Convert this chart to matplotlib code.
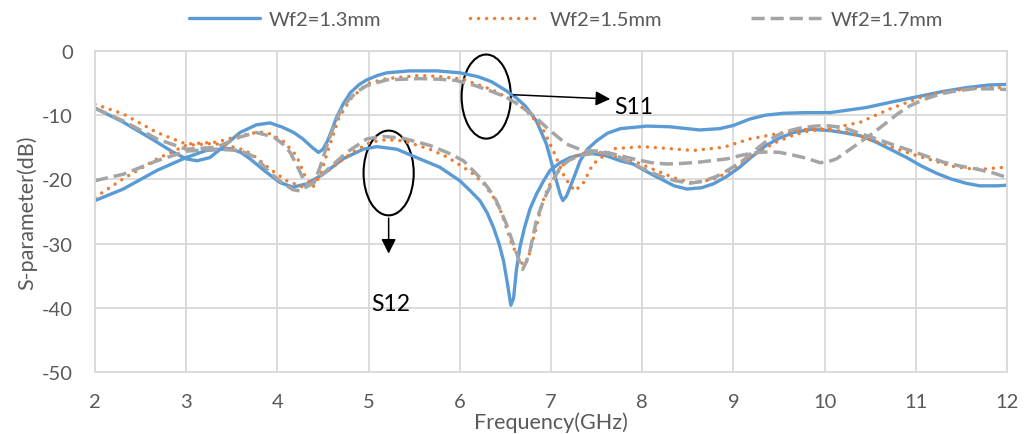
import matplotlib
matplotlib.use("Agg")
import matplotlib.pyplot as plt
from matplotlib.patches import Ellipse

plt.rcParams["font.family"] = ["Lato", "DejaVu Sans"]
plt.rcParams["axes.unicode_minus"] = False

# ----------------------------------------
# data (GHz, dB)
# ----------------------------------------
f_s11_13 = [2.0, 2.3, 2.6, 2.85, 3.0, 3.12, 3.26, 3.4, 3.59, 3.77, 3.92, 4.06, 4.18, 4.28,
            4.38, 4.45, 4.5, 4.55, 4.6, 4.65, 4.72, 4.8, 4.9, 4.98, 5.1, 5.2, 5.45, 5.75,
            6.0, 6.2, 6.35, 6.51, 6.62, 6.72, 6.84, 6.95, 7.04, 7.1, 7.13, 7.17, 7.21,
            7.27, 7.32, 7.4, 7.5, 7.62, 7.76, 8.05, 8.3, 8.63, 8.85, 9.0, 9.18, 9.35,
            9.55, 9.8, 10.06, 10.46, 10.75, 11.06, 11.3, 11.56, 11.8, 12.0]
s11_13 = [-8.9, -11.0, -13.5, -15.7, -16.8, -17.1, -16.6, -15.0, -12.7, -11.5, -11.2, -11.9,
          -12.7, -13.7, -15.0, -15.8, -15.3, -14.0, -12.2, -10.3, -8.3, -6.5, -5.2, -4.5,
          -3.8, -3.4, -3.1, -3.1, -3.4, -4.0, -4.8, -6.2, -7.3, -8.6, -10.9, -14.5, -19.2,
          -22.3, -23.3, -22.6, -21.2, -19.0, -17.1, -15.3, -14.0, -12.8, -12.1, -11.7,
          -11.8, -12.3, -12.1, -11.6, -10.6, -10.0, -9.7, -9.6, -9.6, -8.8, -7.9, -7.0,
          -6.3, -5.7, -5.3, -5.2]

f_s12_13 = [2.0, 2.31, 2.68, 3.0, 3.22, 3.48, 3.6, 3.7, 3.88, 4.03, 4.17, 4.32, 4.5, 4.72,
            4.94, 5.09, 5.31, 5.56, 5.78, 6.0, 6.11, 6.22, 6.3, 6.37, 6.43, 6.48, 6.52,
            6.56, 6.59, 6.62, 6.66, 6.71, 6.77, 6.84, 6.92, 6.99, 7.1, 7.21, 7.35, 7.46,
            7.6, 7.76, 7.9, 8.05, 8.2, 8.35, 8.49, 8.65, 8.78, 8.92, 9.07, 9.2, 9.36, 9.5,
            9.66, 9.84, 10.06, 10.2, 10.39, 10.55, 10.72, 10.9, 11.06, 11.22, 11.38, 11.55,
            11.7, 11.9, 12.0]
s12_13 = [-23.3, -21.5, -18.6, -16.6, -15.5, -15.2, -15.8, -16.8, -18.9, -20.5, -21.2,
          -20.7, -19.2, -16.8, -15.3, -14.9, -15.3, -16.8, -18.1, -20.2, -21.7, -23.3,
          -25.2, -27.5, -30.0, -32.7, -36.0, -39.6, -38.5, -34.2, -30.5, -27.5, -24.6,
          -22.3, -20.2, -18.6, -17.4, -16.6, -16.1, -16.0, -16.3, -17.1, -17.6, -18.8,
          -19.9, -21.0, -21.5, -21.3, -20.7, -19.6, -18.1, -16.5, -14.7, -13.6, -12.7,
          -12.2, -12.4, -12.7, -13.2, -14.1, -15.3, -16.6, -17.9, -19.0, -19.9, -20.6,
          -21.0, -21.0, -20.9]

f_s11_15 = [2.0, 2.31, 2.68, 3.0, 3.33, 3.59, 3.8, 3.92, 4.06, 4.21, 4.3, 4.39, 4.47, 4.56,
            4.67, 4.8, 4.98, 5.2, 5.56, 5.78, 6.04, 6.15, 6.35, 6.51, 6.62, 6.73, 6.82,
            6.92, 7.04, 7.15, 7.26, 7.35, 7.46, 7.61, 7.7, 8.01, 8.3, 8.56, 8.89, 9.18,
            9.55, 9.8, 10.06, 10.39, 10.72, 11.06, 11.3, 11.56, 11.8, 12.0]
s11_15 = [-8.3, -9.8, -12.7, -14.5, -14.2, -13.2, -12.6, -12.9, -14.0, -16.3, -19.4,
          -21.2, -19.4, -15.3, -10.6, -7.5, -5.1, -4.3, -3.8, -4.0, -4.4, -5.0, -6.0,
          -7.2, -8.1, -9.3, -10.7, -12.4, -16.0, -19.7, -21.8, -20.7, -17.6, -16.0,
          -15.2, -14.9, -15.2, -15.5, -15.0, -13.7, -12.7, -12.2, -12.1, -11.1, -9.0,
          -7.2, -6.4, -5.9, -5.7, -5.7]

f_s12_15 = [2.0, 2.31, 2.68, 3.0, 3.3, 3.5, 3.65, 3.77, 3.92, 4.1, 4.28, 4.43, 4.58, 4.8,
            5.02, 5.2, 5.38, 5.67, 5.86, 6.04, 6.15, 6.27, 6.37, 6.45, 6.51, 6.57, 6.62,
            6.67, 6.71, 6.75, 6.79, 6.84, 6.88, 6.93, 6.99, 7.07, 7.14, 7.23, 7.32, 7.45,
            7.54, 7.7, 7.9, 8.05, 8.2, 8.36, 8.52, 8.67, 8.82, 9.0, 9.18, 9.33, 9.47,
            9.66, 9.84, 10.0, 10.2, 10.4, 10.64, 10.82, 11.01, 11.2, 11.38, 11.56, 11.74,
            11.9, 12.0]
s12_15 = [-22.8, -19.9, -16.8, -14.7, -14.4, -14.9, -15.5, -16.6, -18.4, -20.2, -21.2,
          -19.9, -18.4, -16.0, -14.2, -13.8, -14.0, -15.3, -16.5, -18.1, -19.2, -20.8,
          -22.8, -25.0, -27.5, -30.0, -31.6, -32.9, -33.4, -32.3, -30.1, -27.5, -24.9,
          -22.6, -20.7, -19.0, -17.6, -16.6, -16.0, -15.8, -15.9, -16.4, -17.1, -18.0,
          -18.9, -19.8, -20.5, -20.3, -19.8, -18.3, -16.6, -15.3, -14.2, -13.1, -12.4,
          -12.2, -12.5, -13.3, -14.5, -15.4, -16.3, -17.1, -17.9, -18.3, -18.4, -18.2,
          -18.1]

f_s11_17 = [2.0, 2.31, 2.68, 3.0, 3.33, 3.59, 3.77, 3.96, 4.06, 4.14, 4.22, 4.28, 4.34,
            4.4, 4.47, 4.56, 4.65, 4.72, 4.8, 4.9, 4.98, 5.2, 5.56, 5.78, 5.96, 6.15,
            6.35, 6.51, 6.65, 6.81, 6.99, 7.17, 7.35, 7.54, 7.7, 7.9, 8.1, 8.27, 8.45,
            8.63, 8.93, 9.1, 9.26, 9.4, 9.51, 9.65, 9.8, 9.95, 10.05, 10.13, 10.26,
            10.39, 10.52, 10.64, 10.8, 10.94, 11.1, 11.27, 11.45, 11.63, 11.85, 12.0]
s11_17 = [-8.9, -10.9, -13.7, -15.3, -15.0, -13.4, -12.7, -13.4, -14.5, -15.8, -18.0,
          -19.8, -21.0, -20.6, -18.0, -14.0, -10.6, -8.7, -7.3, -6.1, -5.4, -4.5, -4.3,
          -4.4, -4.6, -5.3, -6.3, -7.2, -8.4, -10.1, -12.4, -14.5, -15.5, -15.6, -16.1,
          -16.8, -17.4, -17.6, -17.5, -17.3, -16.8, -16.2, -15.8, -15.7, -15.8, -16.2,
          -16.7, -17.4, -17.2, -16.8, -15.5, -14.2, -12.9, -11.6, -9.8, -8.5, -7.5, -6.7,
          -6.2, -5.9, -5.9, -6.0]

f_s12_17 = [2.0, 2.31, 2.68, 3.0, 3.33, 3.59, 3.75, 3.85, 3.92, 4.06, 4.17, 4.25, 4.39,
            4.54, 4.76, 4.98, 5.16, 5.38, 5.67, 5.86, 6.04, 6.22, 6.32, 6.4, 6.51, 6.6,
            6.65, 6.69, 6.73, 6.77, 6.84, 6.9, 6.95, 7.02, 7.1, 7.2, 7.32, 7.45, 7.54,
            7.7, 7.9, 8.05, 8.2, 8.36, 8.52, 8.67, 8.82, 8.96, 9.11, 9.25, 9.35, 9.5,
            9.62, 9.73, 9.9, 10.0, 10.2, 10.38, 10.57, 10.75, 10.94, 11.12, 11.3, 11.48,
            11.67, 11.85, 12.0]
s12_17 = [-20.2, -19.2, -17.1, -15.6, -15.3, -15.5, -16.5, -17.9, -19.0, -20.6, -21.6,
          -21.8, -20.5, -18.6, -15.8, -13.7, -13.3, -13.6, -14.7, -15.8, -17.1, -19.7,
          -21.5, -23.3, -26.9, -30.6, -32.6, -34.0, -32.8, -31.1, -26.4, -24.0, -22.3,
          -20.3, -18.1, -17.0, -16.3, -15.9, -15.8, -16.2, -17.6, -18.6, -19.5, -20.2,
          -20.6, -20.3, -19.5, -18.4, -17.0, -15.3, -14.2, -13.0, -12.4, -12.0, -11.7,
          -11.6, -11.9, -12.8, -13.7, -14.6, -15.5, -16.4, -17.3, -17.9, -18.4, -19.0,
          -19.7]

labels = ["Wf2=1.3mm", "Wf2=1.5mm", "Wf2=1.7mm"]

BLUE = "#5B9BD5"
ORANGE = "#ED7D31"
GRAY = "#A5A5A5"
TXT = "#595959"

fig = plt.figure(figsize=(10.29, 4.35), dpi=100)
ax = fig.add_axes([0.0923, 0.1425, 0.8863, 0.738])

solid = dict(color=BLUE, lw=2.4, solid_capstyle="round", solid_joinstyle="round")
dotted = dict(color=ORANGE, lw=2.5, linestyle=(0, (0.01, 2.3)), dash_capstyle="round")
dashed = dict(color=GRAY, lw=2.5, linestyle=(0, (3.8, 1.7)), dash_capstyle="butt")

ax.plot(f_s11_13, s11_13, label=labels[0], **solid)
ax.plot(f_s12_13, s12_13, **solid)
ax.plot(f_s11_15, s11_15, label=labels[1], **dotted)
ax.plot(f_s12_15, s12_15, **dotted)
ax.plot(f_s11_17, s11_17, label=labels[2], **dashed)
ax.plot(f_s12_17, s12_17, **dashed)

ax.set_xlim(2, 12)
ax.set_ylim(-50, 0)
ax.set_xticks(range(2, 13))
ax.set_yticks(range(-50, 1, 10))
ax.grid(True, color="#D9D9D9", lw=1.3)
ax.set_axisbelow(True)
for sp in ax.spines.values():
    sp.set_color("#D9D9D9")
    sp.set_linewidth(1.3)
ax.tick_params(length=0, labelsize=14.5, labelcolor=TXT)
ax.tick_params(axis="x", pad=15)
ax.tick_params(axis="y", pad=16)

ax.set_xlabel("Frequency(GHz)", fontsize=15.5, color=TXT, labelpad=1)
ax.set_ylabel("S-parameter(dB)", fontsize=15.5, color=TXT, labelpad=3)

# annotations
ax.add_patch(Ellipse((6.29, -7.1), 0.54, 13.1, fill=False, ec="black", lw=1.5))
ax.add_patch(Ellipse((5.22, -19.0), 0.55, 13.2, fill=False, ec="black", lw=1.5))
ax.annotate("", xy=(7.68, -7.5), xytext=(6.56, -6.8),
            arrowprops=dict(arrowstyle="-|>", color="black", lw=1.1, mutation_scale=22))
ax.annotate("", xy=(5.22, -32.0), xytext=(5.22, -25.6),
            arrowprops=dict(arrowstyle="-|>", color="black", lw=1.1, mutation_scale=22))
ax.text(7.69, -8.7, "S11", fontsize=16.5, color="black", va="center", ha="left")
ax.text(5.24, -39.3, "S12", fontsize=16.5, color="black", va="center", ha="center")

fig.legend(loc="center", bbox_to_anchor=(0.55, 0.954), ncol=3, frameon=False,
           fontsize=14.5, labelcolor=TXT, handlelength=3.5, handletextpad=0.45,
           columnspacing=4.4)

fig.savefig("out.png", dpi=100)
